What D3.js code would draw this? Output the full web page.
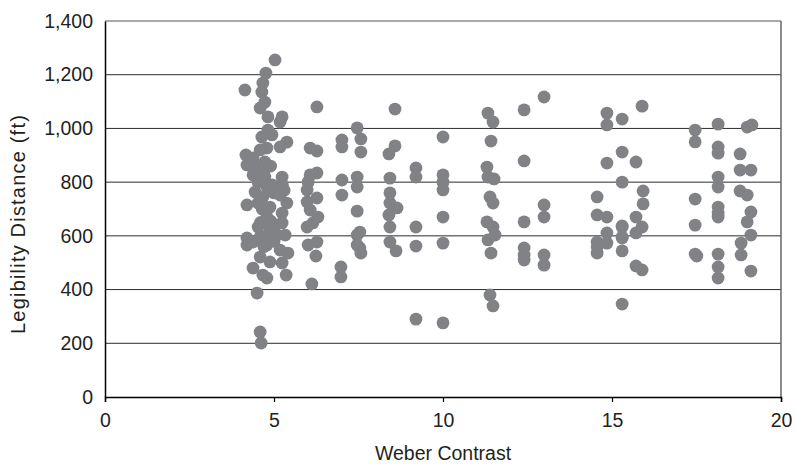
<!DOCTYPE html>
<html>
<head>
<meta charset="utf-8">
<script src="https://cdn.jsdelivr.net/npm/d3@7/dist/d3.min.js"></script>
<style>
  html, body { margin: 0; padding: 0; background: #fff; }
  svg { display: block; }
  text { font-family: "Liberation Sans", Arial, Helvetica, sans-serif; fill: #231f20; }
</style>
</head>
<body>
<svg id="chart" width="796" height="464"></svg>
<script>
// Weber contrast (x) and legibility distance in ft (y), one entry per observation
const contrast = [
  4.14, 4.17, 4.20, 4.20, 4.20, 4.20,
  5.03, 4.76, 4.67, 4.64, 4.73, 4.59, 4.82, 5.24, 5.18, 4.82, 4.64, 4.94, 5.38, 5.18,
  4.79, 4.59, 4.38, 4.73, 4.53, 4.38, 4.73, 5.24, 4.53, 4.79, 4.44, 5.18, 4.67, 5.38,
  4.53, 4.88, 5.24, 4.79, 5.24, 4.53, 4.88, 4.59, 5.09, 5.33, 4.38, 4.79, 5.18, 5.41,
  4.59, 4.88, 5.24, 4.38, 4.67, 4.79, 5.36, 4.50, 4.59, 4.62,
  4.70, 4.95, 4.65, 4.85, 4.70, 5.00, 4.90, 4.60, 5.25, 5.30, 5.00, 5.05, 4.90,
  6.27, 6.07, 6.27, 6.07, 6.27, 6.01, 5.98, 6.27, 5.98, 6.07, 6.30, 5.98, 6.15, 6.01, 6.27, 6.24, 6.12,
  7.01, 7.01, 7.01, 7.01, 6.98, 6.98,
  7.46, 7.57, 7.57, 7.46, 7.46, 7.46, 7.54, 7.46, 7.46, 7.54, 7.57,
  8.58, 8.58, 8.40, 8.43, 8.43, 8.43, 8.64, 8.40, 8.43, 8.43, 8.61,
  9.20, 9.20, 9.20, 9.20, 9.20,
  10.0, 10.0, 10.0, 10.0, 10.0, 10.0, 10.0,
  11.33, 11.48, 11.42, 11.30, 11.33, 11.51, 11.39, 11.48, 11.30, 11.48, 11.54, 11.33, 11.42, 11.39, 11.48,
  12.40, 12.40, 12.40, 12.40, 12.40, 12.40,
  12.99, 12.99, 12.99, 12.99, 12.99,
  14.56, 14.56, 14.56, 14.56, 14.56,
  14.85, 14.85, 14.85, 14.85, 14.85, 14.85,
  15.30, 15.30, 15.30, 15.30, 15.30, 15.30, 15.30, 15.30, 15.30,
  15.89, 15.71, 15.92, 15.92, 15.71, 15.89, 15.71, 15.71, 15.89,
  17.46, 17.46, 17.46, 17.46, 17.46, 17.51,
  18.14, 18.14, 18.14, 18.14, 18.14, 18.14, 18.14, 18.14, 18.14, 18.14, 18.14,
  19.00, 19.14, 18.79, 18.79, 19.11, 18.79, 19.00, 19.11, 19.00, 19.11, 18.82, 18.82, 19.11
];
const distance = [
  1143, 901, 864, 715, 592, 566,
  1255, 1206, 1169, 1136, 1098, 1076, 1043, 1043, 1024, 994, 968, 976, 949, 931,
  927, 920, 890, 875, 856, 827, 819, 819, 800, 782, 763, 752, 745, 722,
  722, 707, 685, 670, 648, 633, 629, 596, 603, 603, 577, 566, 547, 536,
  521, 503, 499, 480, 454, 443, 454, 387, 242, 201,
  840, 790, 700, 610, 560, 580, 860, 650, 790, 770, 760, 640, 655,
  1080, 927, 916, 827, 834, 800, 771, 741, 726, 696, 670, 633, 648, 566, 577, 525, 421,
  957, 931, 808, 752, 484, 447,
  1002, 961, 912, 819, 782, 692, 614, 603, 566, 555, 536,
  1072, 935, 905, 815, 760, 722, 704, 678, 633, 577, 544,
  853, 819, 633, 562, 290,
  968, 827, 800, 771, 670, 573, 276,
  1057, 1024, 953, 856, 819, 812, 745, 722, 652, 633, 603, 585, 536, 380, 339,
  1069, 879, 652, 555, 529, 510,
  1117, 715, 670, 529, 491,
  745, 678, 577, 559, 536,
  1057, 1013, 871, 670, 611, 573,
  1035, 912, 800, 637, 633, 596, 592, 544, 346,
  1083, 875, 767, 719, 670, 633, 611, 488, 473,
  994, 950, 737, 640, 532, 525,
  1016, 931, 908, 819, 782, 707, 685, 670, 532, 484, 443,
  1005, 1013, 905, 845, 845, 767, 752, 689, 652, 603, 573, 529, 469
];
const xTicks = [0, 5, 10, 15, 20];
const yTicks = [0, 200, 400, 600, 800, 1000, 1200, 1400];
const xTitle = "Weber Contrast";
const yTitle = "Legibility Distance (ft)";

const svg = d3.select("#chart");
const m = { left: 105, right: 781, top: 21, bottom: 397 };

const x = d3.scaleLinear().domain([0, 20]).range([m.left, m.right]);
const y = d3.scaleLinear().domain([0, 1400]).range([m.bottom, m.top]);

// gridlines
svg.append("g")
  .selectAll("line")
  .data(yTicks.filter(d => d > 0))
  .join("line")
  .attr("x1", m.left).attr("x2", m.right)
  .attr("y1", d => y(d)).attr("y2", d => y(d))
  .attr("stroke", d => d === 1400 ? "#555" : "#2b2b2b")
  .attr("stroke-width", 1);

// right border
svg.append("line")
  .attr("x1", m.right).attr("x2", m.right)
  .attr("y1", m.top).attr("y2", m.bottom)
  .attr("stroke", "#666").attr("stroke-width", 1.5);

// points
const pts = contrast.map((c, i) => ({ c, d: distance[i] }));
svg.append("g")
  .selectAll("circle")
  .data(pts)
  .join("circle")
  .attr("cx", p => x(p.c))
  .attr("cy", p => y(p.d))
  .attr("r", 6.4)
  .attr("fill", "#808285");

// axes
const fontSize = "19.5px";
const xAxis = svg.append("g")
  .attr("transform", `translate(0,${m.bottom})`)
  .call(d3.axisBottom(x).tickValues(xTicks).tickSize(5).tickPadding(11).tickFormat(d3.format("d")));
xAxis.select(".domain").attr("stroke", "#000").attr("stroke-width", 1.5);
xAxis.selectAll(".tick line").attr("stroke", "#000").attr("stroke-width", 1.2);
xAxis.selectAll("text").style("font-size", fontSize).attr("fill", "#231f20");

const yAxis = svg.append("g")
  .attr("transform", `translate(${m.left},0)`)
  .call(d3.axisLeft(y).tickValues(yTicks).tickSize(0).tickPadding(12).tickFormat(d3.format(",")));
yAxis.select(".domain").attr("stroke", "#000").attr("stroke-width", 1.5);
yAxis.selectAll("text").style("font-size", fontSize).attr("fill", "#231f20");

// titles
svg.append("text")
  .attr("x", (m.left + m.right) / 2)
  .attr("y", 460)
  .attr("text-anchor", "middle")
  .style("font-size", fontSize)
  .text(xTitle);

svg.append("text")
  .attr("transform", `translate(25,224) rotate(-90)`)
  .attr("text-anchor", "middle")
  .style("font-size", "20px")
  .style("letter-spacing", "1.2px")
  .text(yTitle);
</script>
</body>
</html>
